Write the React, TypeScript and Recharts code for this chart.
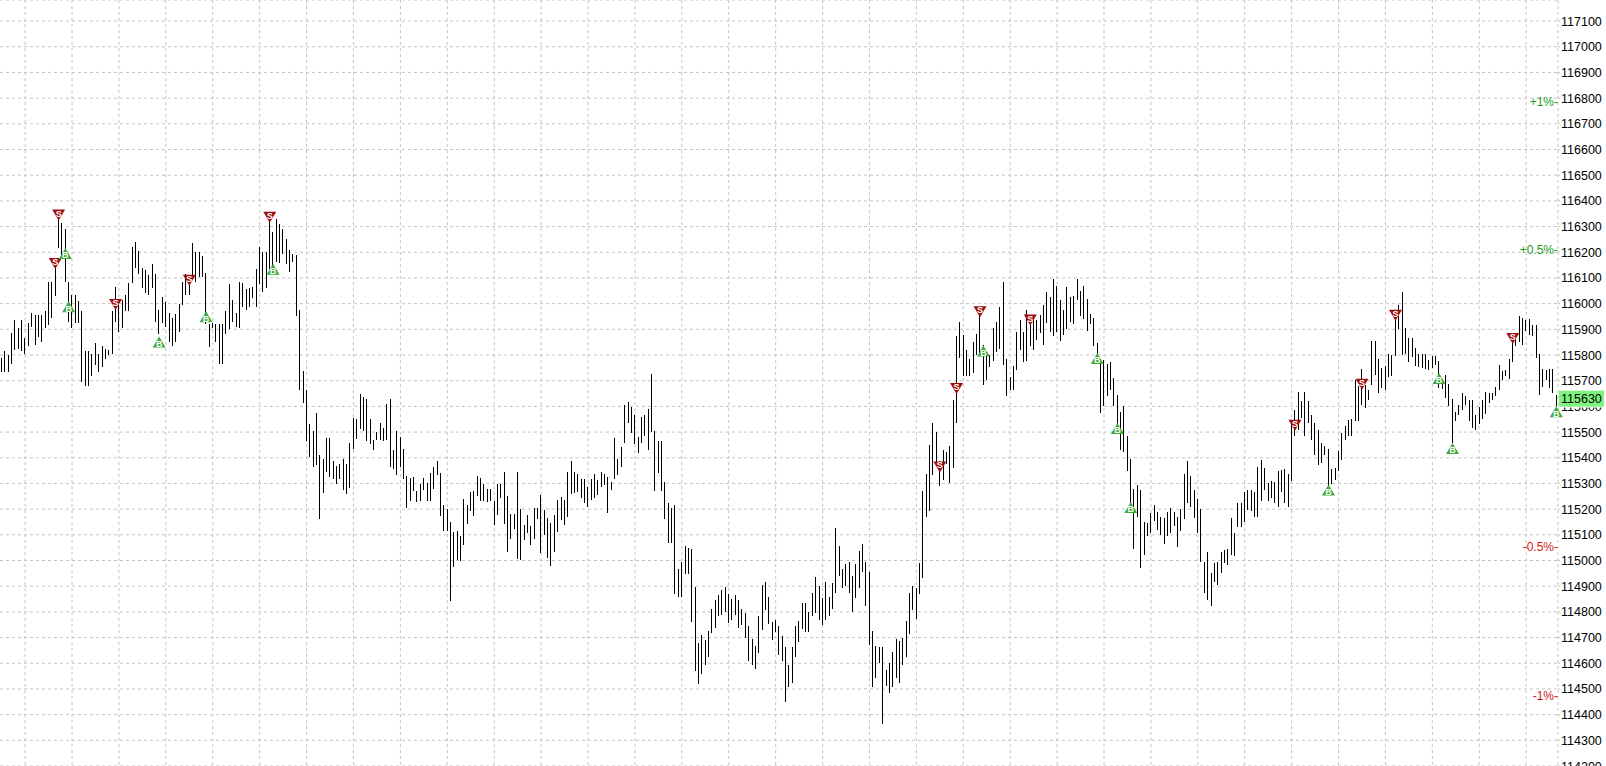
import { Bar, CartesianGrid, ComposedChart, Line, ReferenceLine, XAxis, YAxis } from "recharts";

// high / low of every bar, left to right
const highs = [
  115790, 115815, 115800, 115885, 115935, 115905, 115935, 115865, 115925, 115965,
  115955, 115955, 115955, 115970, 116085, 116085, 116160, 116350, 116315, 116290,
  116085, 116035, 116035, 116010, 115970, 115815, 115815, 115805, 115845, 115805,
  115835, 115825, 115820, 115970, 116065, 116010, 116015, 116035, 116080, 116220,
  116240, 116205, 116140, 116130, 116110, 116155, 116115, 115975, 116025, 116005,
  115965, 115945, 115960, 116000, 116085, 116115, 116085, 116235, 116200, 116200,
  116185, 116120, 115920, 115925, 115920, 115920, 115920, 115970, 116075, 116015,
  115965, 116085, 116080, 116055, 116060, 116065, 116135, 116220, 116200, 116200,
  116348, 116277, 116329, 116309, 116290, 116251, 116209, 116192, 116188, 115975,
  115738, 115662, 115530, 115504, 115575, 115409, 115396, 115478, 115478, 115387,
  115367, 115377, 115396, 115377, 115458, 115556, 115549, 115647, 115638, 115627,
  115549, 115469, 115501, 115536, 115517, 115608, 115627, 115429, 115504, 115482,
  115435, 115328, 115321, 115326, 115270, 115296, 115322, 115303, 115342, 115364,
  115387, 115340, 115218, 115199, 115149, 115110, 115114, 115097, 115238, 115218,
  115266, 115270, 115328, 115322, 115296, 115277, 115277, 115231, 115296, 115296,
  115344, 115253, 115182, 115182, 115344, 115201, 115140, 115179,
  115134, 115203, 115205, 115255, 115196, 115164, 115147, 115177, 115235, 115248,
  115235, 115345, 115388, 115345, 115336, 115319, 115319, 115287, 115319, 115336,
  115313, 115344, 115335, 115326, 115306, 115475, 115397, 115440, 115605, 115618,
  115599, 115566, 115482, 115560, 115566, 115588, 115726, 115505, 115465, 115465,
  115306, 115222, 115203, 115216, 114965, 114995, 115056, 115047, 115043, 114897,
  114677, 114709, 114690, 114726, 114813, 114845, 114865, 114884, 114895, 114869,
  114852, 114865, 114848, 114813, 114796, 114744, 114696, 114666, 114783, 114904,
  114917, 114856, 114761, 114768, 114744, 114705, 114664, 114592,
  114665, 114745, 114766, 114836, 114836, 114801, 114875, 114935, 114901, 114853,
  114918, 114857, 114912, 115126, 115057, 114966, 114987, 114996, 114940, 114987,
  115038, 115065, 114996, 114957, 114727, 114668, 114665, 114662, 114574, 114600,
  114645, 114694, 114688, 114697, 114766, 114875, 114899, 114892, 114990, 115269,
  115338, 115451, 115535, 115499, 115386, 115431, 115421, 115447, 115626, 115875,
  115927, 115879, 115818, 115784, 115849, 115880, 115969, 115840, 115797, 115801,
  115905, 115927, 115987, 116083, 115784, 115714, 115758, 115888, 115938, 115888,
  115977, 115951, 115940, 115938, 115957, 115996, 116044,
  116026, 116096, 116070, 116016, 115977, 116065, 116026, 116029, 116096, 116048,
  116068, 116018, 115961, 115944, 115847, 115771, 115779, 115766, 115771, 115710,
  115645, 115577, 115600, 115486, 115395, 115278, 115295, 115275, 115148, 115145,
  115184, 115217, 115187, 115171, 115165, 115187, 115204, 115187, 115171, 115200,
  115338, 115386, 115330, 115275, 115239, 115200, 114996, 115035, 114951, 114992,
  114996, 115035, 115039, 115044, 115165, 115106, 115223, 115223, 115265, 115275,
  115273, 115265, 115364, 115390, 115360, 115301, 115308, 115304, 115347, 115353,
  115356, 115338, 115542, 115587, 115655, 115620, 115655, 115620,
  115568, 115535, 115509, 115457, 115447, 115434, 115356, 115360, 115425, 115496,
  115525, 115548, 115551, 115704, 115678, 115745, 115684, 115665, 115856, 115853,
  115784, 115749, 115758, 115805, 115801, 115970, 115996, 116044, 115905, 115866,
  115866, 115827, 115805, 115805, 115805, 115782, 115795, 115797, 115775, 115706,
  115723, 115688, 115629, 115577, 115606, 115652, 115642, 115623, 115626, 115568,
  115597, 115623, 115655, 115652, 115652, 115675, 115762, 115736, 115743, 115784,
  115886, 115870, 115951, 115944, 115938, 115940, 115918, 115918, 115805, 115745,
  115743, 115745, 115745, 115645,
];

const lows = [
  115735, 115735, 115735, 115765, 115820, 115825, 115815, 115805, 115835, 115910,
  115840, 115870, 115850, 115905, 115915, 115945, 116030, 116215, 116190, 116085,
  115930, 115905, 115925, 115925, 115695, 115680, 115680, 115720, 115760, 115735,
  115755, 115785, 115800, 115805, 115930, 115890, 115905, 115970, 115970, 116080,
  116140, 116115, 116060, 116040, 116035, 116060, 115930, 115880, 115925, 115910,
  115850, 115835, 115850, 115890, 115995, 116035, 116035, 116105, 116085, 116105,
  116105, 115920, 115830, 115905, 115850, 115765, 115765, 115880, 115900, 115930,
  115910, 115905, 115985, 115975, 115985, 116020, 115985, 116075, 116045, 116060,
  116134, 116114, 116162, 116160, 116192, 116153, 116123, 116162, 115952, 115664,
  115614, 115465, 115404, 115364, 115370, 115162, 115264, 115344, 115325, 115318,
  115296, 115316, 115276, 115257, 115283, 115435, 115474, 115510, 115504, 115465,
  115455, 115432, 115469, 115469, 115465, 115471, 115364, 115355, 115331, 115364,
  115316, 115205, 115231, 115270, 115227, 115231, 115274, 115231, 115231, 115277,
  115331, 115173, 115114, 115114, 114842, 114974, 115001, 114997, 115062, 115143,
  115192, 115173, 115251, 115231, 115231, 115227, 115231, 115140, 115179, 115244,
  115144, 115032, 115082, 115123, 115004, 115001, 115079, 115108,
  115060, 115082, 115160, 115030, 115099, 115008, 114979, 115034, 115112, 115157,
  115138, 115170, 115258, 115261, 115268, 115242, 115222, 115209, 115235, 115242,
  115255, 115287, 115293, 115183, 115274, 115319, 115332, 115365, 115458, 115534,
  115495, 115453, 115419, 115456, 115484, 115432, 115501, 115271, 115342, 115271,
  115160, 115069, 115069, 114869, 114858, 114858, 114949, 114949, 114761, 114570,
  114521, 114559, 114592, 114625, 114718, 114739, 114783, 114787, 114800, 114755,
  114768, 114787, 114739, 114748, 114700, 114609, 114592, 114579, 114638, 114731,
  114806, 114752, 114692, 114722, 114631, 114609, 114449, 114508,
  114522, 114623, 114681, 114733, 114720, 114723, 114782, 114795, 114769, 114749,
  114769, 114782, 114810, 114873, 114940, 114892, 114901, 114873, 114801, 114853,
  114892, 114957, 114821, 114671, 114509, 114542, 114600, 114364, 114512, 114483,
  114509, 114542, 114522, 114594, 114623, 114714, 114808, 114771, 114870, 114931,
  115171, 115191, 115334, 115366, 115291, 115312, 115377, 115301, 115360, 115535,
  115788, 115719, 115719, 115719, 115730, 115800, 115800, 115684, 115701, 115753,
  115775, 115810, 115823, 115762, 115642, 115662, 115662, 115740, 115821, 115771,
  115775, 115834, 115821, 115860, 115886, 115840, 115925,
  115888, 115873, 115888, 115853, 115879, 115901, 115927, 115922, 116013, 115953,
  115940, 115892, 115922, 115834, 115775, 115574, 115603, 115642, 115662, 115603,
  115522, 115431, 115421, 115347, 115204, 115043, 115171, 114970, 115022, 115094,
  115106, 115152, 115119, 115100, 115065, 115094, 115106, 115135, 115054, 115113,
  115161, 115223, 115208, 115165, 115106, 114996, 114873, 114847, 114823, 114918,
  114905, 114951, 114992, 114983, 115022, 115018, 115132, 115130, 115148, 115197,
  115191, 115171, 115169, 115230, 115273, 115230, 115243, 115223, 115210, 115265,
  115223, 115210, 115308, 115483, 115509, 115555, 115483, 115535,
  115470, 115412, 115373, 115379, 115412, 115288, 115299, 115314, 115347, 115392,
  115470, 115483, 115486, 115542, 115542, 115606, 115594, 115623, 115684, 115723,
  115652, 115671, 115662, 115714, 115717, 115797, 115901, 115801, 115805, 115771,
  115792, 115756, 115753, 115749, 115745, 115740, 115749, 115762, 115671, 115668,
  115632, 115600, 115457, 115542, 115568, 115584, 115606, 115542, 115516, 115507,
  115532, 115551, 115571, 115613, 115623, 115642, 115665, 115704, 115717, 115706,
  115771, 115834, 115849, 115840, 115892, 115879, 115875, 115788, 115645, 115675,
  115704, 115671, 115652, 115600,
];

// signal markers: bar index + price
const sellBars = [16, 17, 34, 56, 80, 280, 285, 292, 307, 386, 406, 416, 451];
const sellPrices = [116156, 116345, 115997, 116091, 116336, 115364, 115670, 115968, 115936, 115527, 115686, 115955, 115864];
const buyBars = [19, 20, 47, 61, 81, 293, 327, 333, 337, 396, 429, 433, 464];
const buyPrices = [116195, 115988, 115851, 115949, 116134, 115816, 115786, 115514, 115206, 115274, 115709, 115436, 115579];

const priceTicks = [
  114200, 114300, 114400, 114500, 114600, 114700, 114800, 114900, 115000, 115100,
  115200, 115300, 115400, 115500, 115600, 115700, 115800, 115900, 116000, 116100,
  116200, 116300, 116400, 116500, 116600, 116700, 116800, 116900, 117000, 117100,
];

const lastPrice = 115630;
const percentLevels = [1, 0.5, -0.5, -1];
const percentLabels = ["+1%-", "+0.5%-", "-0.5%-", "-1%-"];

const rows = highs.map((high, i) => {
  const s = sellBars.indexOf(i);
  const b = buyBars.indexOf(i);
  return {
    i,
    high,
    low: lows[i],
    sell: s >= 0 ? sellPrices[s] : null,
    buy: b >= 0 ? buyPrices[b] : null,
  };
});

// a vertical grid line every 14 bars
const gridBars = rows.map((r) => r.i).filter((i) => i % 14 === 7);

function verticalGrid(props: any) {
  const { xAxis, offset } = props;
  const scale = xAxis?.scale;
  if (scale && typeof scale === "function") {
    const bw = typeof scale.bandwidth === "function" ? scale.bandwidth() : 0;
    return gridBars.map((i) => scale(i) + bw / 2);
  }
  const step = offset.width / rows.length;
  return gridBars.map((i) => offset.left + (i + 0.5) * step);
}

// price tick; the one hidden behind the last-price tag only peeks out below it
function PriceTick(props: any) {
  const { x, y, payload } = props;
  const v = payload?.value;
  const covered = Math.abs(v - lastPrice) < 60;
  const clipId = `tagclip-${v}`;
  return (
    <g>
      {covered && (
        <defs>
          <clipPath id={clipId}>
            <rect x={x - 2} y={y + 1} width={60} height={20} />
          </clipPath>
        </defs>
      )}
      <text
        x={x}
        y={y}
        dy="0.36em"
        textAnchor="start"
        fontSize={12.5}
        fill="#000"
        clipPath={covered ? `url(#${clipId})` : undefined}
      >
        {v}
      </text>
    </g>
  );
}

function Stick(props: any) {
  const { x, y, width, height } = props;
  if (x == null || y == null || height == null) return null;
  const top = Math.min(y, y + height);
  const h = Math.max(1, Math.abs(height));
  return <rect x={Math.floor(x + width / 2)} y={top} width={1} height={h} fill="#000" shapeRendering="crispEdges" />;
}

function SellMark(props: any) {
  const { cx, cy, value, index } = props;
  if (value == null || cy == null) return <g key={`s${index}`} />;
  return (
    <g key={`s${index}`}>
      <polygon points={`${cx - 6.5},${cy - 5.5} ${cx + 6.5},${cy - 5.5} ${cx},${cy + 5.5}`} fill="#a00d0d" />
      <text x={cx} y={cy + 1.5} textAnchor="middle" fontSize={9} fontWeight="bold" fill="#fff">S</text>
    </g>
  );
}

function BuyMark(props: any) {
  const { cx, cy, value, index } = props;
  if (value == null || cy == null) return <g key={`b${index}`} />;
  return (
    <g key={`b${index}`}>
      <polygon points={`${cx},${cy - 5.5} ${cx + 6.5},${cy + 5.5} ${cx - 6.5},${cy + 5.5}`} fill="#3daa3d" />
      <text x={cx} y={cy + 4.8} textAnchor="middle" fontSize={9} fontWeight="bold" fill="#fff">B</text>
    </g>
  );
}

function PriceTag(props: any) {
  const { viewBox } = props;
  if (!viewBox) return null;
  const x = viewBox.x + viewBox.width + 1;
  const y = viewBox.y;
  return (
    <g>
      <rect x={x} y={y - 8} width={45} height={16} fill="#7ef27e" />
      <text x={x + 2} y={y + 4.5} fontSize={12.5} fill="#000">{lastPrice}</text>
    </g>
  );
}

export default function App() {
  return (
    <div
      style={{
        position: "absolute",
        left: 0,
        top: 0,
        width: 1606,
        height: 766,
        background: "#fff",
        fontFamily: "'Liberation Sans', Arial, sans-serif",
      }}
    >
      <ComposedChart width={1606} height={766} data={rows} margin={{ top: 0, right: 0, bottom: 0, left: 0 }} barCategoryGap={0}>
        <CartesianGrid stroke="#c4c4c4" strokeDasharray="3 3" verticalCoordinatesGenerator={verticalGrid} />
        <XAxis dataKey="i" type="category" ticks={gridBars} interval={0} tick={false} tickLine={false} axisLine={false} height={0} />
        <YAxis
          orientation="right"
          width={48}
          domain={[114200, 117182]}
          ticks={priceTicks}
          interval={0}
          allowDataOverflow
          tickSize={2}
          tickMargin={1}
          tick={<PriceTick />}
          tickLine={{ stroke: "#c4c4c4" }}
          axisLine={{ stroke: "#c4c4c4", strokeDasharray: "3 3" }}
        />
        <Bar dataKey={(r: any) => [r.low, r.high]} shape={Stick} isAnimationActive={false} />
        <Line dataKey="sell" stroke="none" dot={SellMark} activeDot={false} isAnimationActive={false} />
        <Line dataKey="buy" stroke="none" dot={BuyMark} activeDot={false} isAnimationActive={false} />
        {percentLevels.map((p, k) => (
          <ReferenceLine
            key={p}
            y={lastPrice * (1 + p / 100)}
            stroke="none"
            label={{ value: percentLabels[k], position: "insideRight", offset: 0, fill: p > 0 ? "#1c9e1c" : "#d01818", fontSize: 12 }}
          />
        ))}
        <ReferenceLine y={lastPrice} stroke="none" label={<PriceTag />} />
      </ComposedChart>
    </div>
  );
}
